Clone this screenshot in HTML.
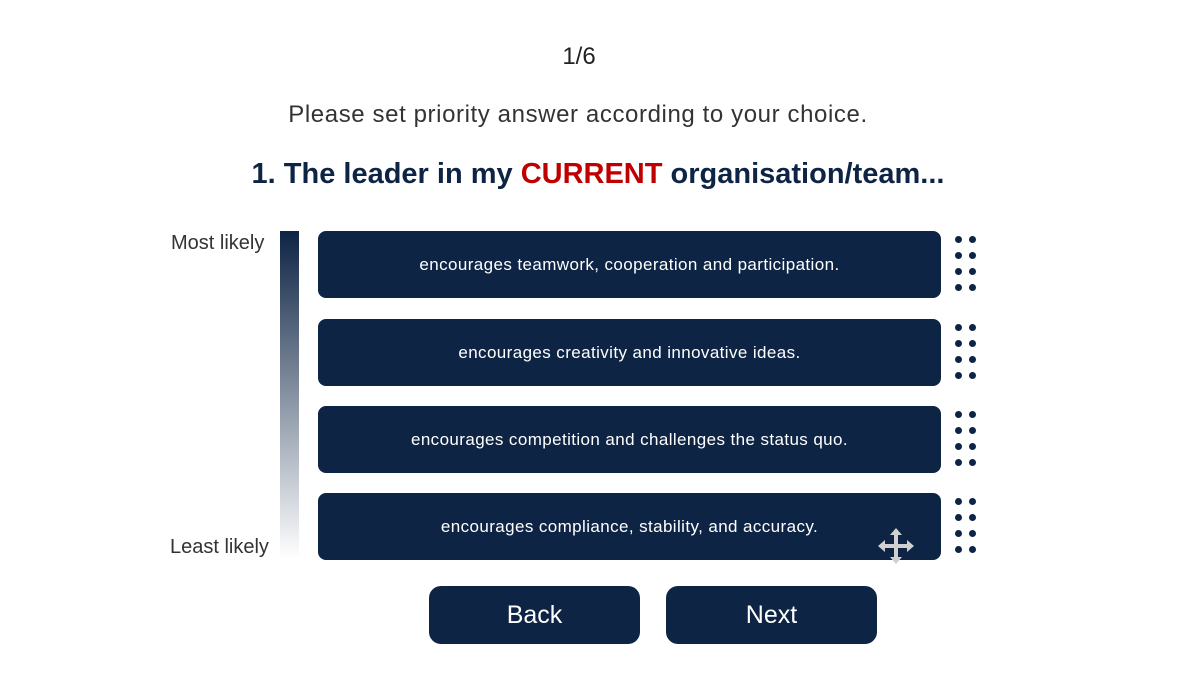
<!DOCTYPE html>
<html><head><meta charset="utf-8"><style>
body{margin:0;width:1200px;height:675px;background:#fff;font-family:"Liberation Sans",sans-serif;position:relative;overflow:hidden;color:#0d2444}
.a{position:absolute}
.card{position:absolute;left:318px;width:623px;height:67px;background:#0d2444;border-radius:8px;color:#fff;font-size:17px;letter-spacing:0.4px;display:flex;align-items:center;justify-content:center}
.h{position:absolute;left:955px;width:24px}
.h i{position:absolute;width:7px;height:7px;border-radius:50%;background:#0d2444}
.btn{position:absolute;top:586px;width:211px;height:58px;background:#0d2444;border-radius:12px;color:#fff;font-size:25px;display:flex;align-items:center;justify-content:center}
</style></head><body>
<div class="a" style="top:43px;width:1158px;text-align:center;font-size:24px;color:#222">1/6</div>
<div class="a" style="top:101px;width:1156px;text-align:center;font-size:24px;letter-spacing:0.6px;color:#333">Please set priority answer according to your choice.</div>
<div class="a" style="top:158px;width:1196px;text-align:center;font-size:29px;font-weight:bold">1. The leader in my <span style="color:#c00000">CURRENT</span> organisation/team...</div>
<div class="a" style="left:171px;top:232px;font-size:20px;color:#333">Most likely</div>
<div class="a" style="left:170px;top:536px;font-size:20px;color:#333">Least likely</div>
<div class="a" style="left:280px;top:231px;width:19px;height:328px;background:linear-gradient(#0d2444,#fff)"></div>
<div class="card" style="top:231px">encourages teamwork, cooperation and participation.</div>
<div class="card" style="top:319px">encourages creativity and innovative ideas.</div>
<div class="card" style="top:406px">encourages competition and challenges the status quo.</div>
<div class="card" style="top:493px">encourages compliance, stability, and accuracy.</div>
<div id="handles"></div>
<svg class="a" style="left:876px;top:527px" width="40" height="38" viewBox="0 0 40 38"><path d="M20 1 L26 8 L22 8 L22 17 L31 17 L31 13 L38 19 L31 25 L31 21 L22 21 L22 30 L26 30 L20 37 L14 30 L18 30 L18 21 L9 21 L9 25 L2 19 L9 13 L9 17 L18 17 L18 8 L14 8 Z" fill="#d0d0d0"/></svg>
<div class="btn" style="left:429px">Back</div>
<div class="btn" style="left:666px">Next</div>
<script>
var tops=[236,324,411,498];
var c=document.getElementById('handles');
tops.forEach(function(t,k){
var h=document.createElement('div');h.className='h';h.style.top=t+'px';h.style.height='60px';


for(var r=0;r<4;r++)for(var col=0;col<2;col++){var d=document.createElement('i');d.style.left=(col*14)+'px';d.style.top=(r*16)+'px';h.appendChild(d);}
c.appendChild(h);});
</script>
</body></html>
